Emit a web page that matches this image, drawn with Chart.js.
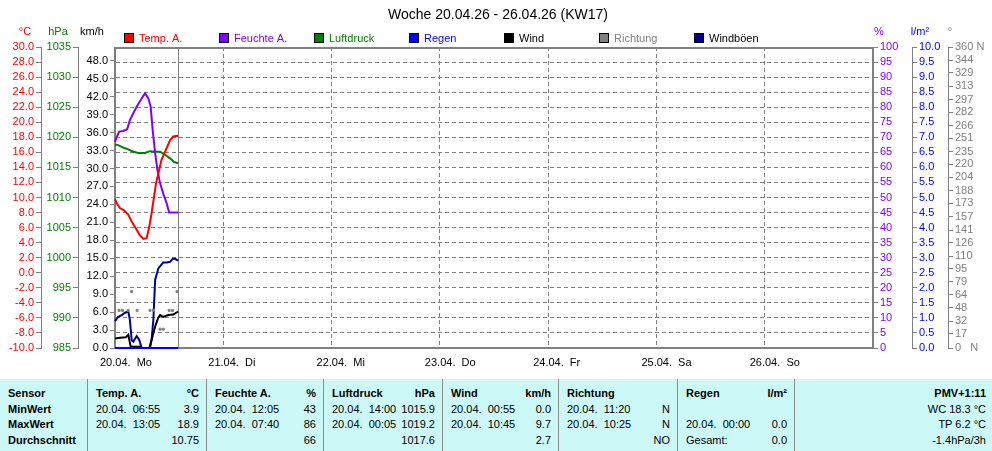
<!DOCTYPE html>
<html>
<head>
<meta charset="utf-8">
<script src="https://cdn.jsdelivr.net/npm/chart.js@4.4.0/dist/chart.umd.min.js"></script>
<style>
body{margin:0;background:#fff;font-family:"Liberation Sans",Arial,sans-serif;}
#wrap{position:relative;width:992px;height:451px;overflow:hidden}
#c{position:absolute;left:0;top:0}
#tab{position:absolute;left:0;top:379px;width:992px;height:72px;background:#ccf8f8;font-size:11px;color:#000}
.col{position:absolute;top:0;height:72px;border-left:1px solid #8c8c8c}
.r{position:absolute;left:8px;right:7px;height:14px;line-height:14px;white-space:pre}
.r span{position:absolute;right:0;top:0}
.b{font-weight:bold}
.r0{top:7px}.r1{top:23px}.r2{top:38px}.r3{top:54px}
</style>
</head>
<body>
<div id="wrap">
<canvas id="c" width="992" height="379"></canvas>
<div id="tab">
  <div class="col" style="left:0;width:87px;border-left:none">
    <div class="r r0 b">Sensor</div><div class="r r1 b">MinWert</div><div class="r r2 b">MaxWert</div><div class="r r3 b">Durchschnitt</div>
  </div>
  <div class="col" style="left:87px;width:118px">
    <div class="r r0 b">Temp. A.<span>°C</span></div>
    <div class="r r1">20.04.  06:55<span>3.9</span></div>
    <div class="r r2">20.04.  13:05<span>18.9</span></div>
    <div class="r r3"><span>10.75</span></div>
  </div>
  <div class="col" style="left:206px;width:116px">
    <div class="r r0 b">Feuchte A.<span>%</span></div>
    <div class="r r1">20.04.  12:05<span>43</span></div>
    <div class="r r2">20.04.  07:40<span>86</span></div>
    <div class="r r3"><span>66</span></div>
  </div>
  <div class="col" style="left:323px;width:118px">
    <div class="r r0 b">Luftdruck<span>hPa</span></div>
    <div class="r r1">20.04.  14:00<span>1015.9</span></div>
    <div class="r r2">20.04.  00:05<span>1019.2</span></div>
    <div class="r r3"><span>1017.6</span></div>
  </div>
  <div class="col" style="left:442px;width:115px">
    <div class="r r0 b">Wind<span>km/h</span></div>
    <div class="r r1">20.04.  00:55<span>0.0</span></div>
    <div class="r r2">20.04.  10:45<span>9.7</span></div>
    <div class="r r3"><span>2.7</span></div>
  </div>
  <div class="col" style="left:558px;width:118px">
    <div class="r r0 b">Richtung</div>
    <div class="r r1">20.04.  11:20<span>N</span></div>
    <div class="r r2">20.04.  10:25<span>N</span></div>
    <div class="r r3"><span>NO</span></div>
  </div>
  <div class="col" style="left:677px;width:116px">
    <div class="r r0 b">Regen<span>l/m²</span></div>
    <div class="r r2">20.04.  00:00<span>0.0</span></div>
    <div class="r r3">Gesamt:<span>0.0</span></div>
  </div>
  <div class="col" style="left:794px;width:198px">
    <div class="r r0 b"><span>PMV+1:11</span></div>
    <div class="r r1"><span>WC 18.3 °C</span></div>
    <div class="r r2"><span>TP 6.2 °C</span></div>
    <div class="r r3"><span>-1.4hPa/3h</span></div>
  </div>
</div>
</div>
<script>
// Stunden seit 20.04. 00:00 und Messwerte
const tempH = [0, 0.4, 1.1, 2.0, 2.95, 3.7, 4.4, 5.5, 6.3, 7.0, 7.6, 8.1, 8.65, 9.1, 9.6, 10.3, 11.1, 12.2, 12.9, 14.0];
const tempV = [9.8, 9.2, 8.6, 8.3, 7.7, 6.8, 6.1, 5.0, 4.5, 4.6, 6.1, 7.9, 10.1, 11.9, 13.2, 15.0, 16.1, 17.6, 18.1, 18.2];

const humH = [0, 0.4, 0.95, 1.8, 2.7, 3.3, 4.05, 4.9, 5.9, 6.65, 7.4, 7.9, 8.35, 8.9, 9.4, 10, 10.8, 11.45, 12.0, 14.0];
const humV = [68.5, 70.2, 71.9, 72.1, 72.7, 75.7, 78.0, 80.4, 82.9, 84.6, 82.9, 80.2, 72.4, 64.7, 59.1, 54.7, 50.8, 48.1, 45, 45];

const presH = [0, 0.7, 1.8, 2.95, 4.05, 5.2, 6.65, 7.75, 8.9, 10, 11.1, 12.2, 13.1, 14.0];
const presV = [1018.8, 1018.7, 1018.3, 1018.0, 1017.6, 1017.4, 1017.4, 1017.7, 1017.6, 1017.6, 1017.1, 1016.5, 1015.9, 1015.7];

const rainH = [0, 14.0];
const rainV = [0, 0];

const windH = [0, 1.1, 2.4, 2.95, 3.45, 4.05, 5.5, 5.9, 7.6, 8.1, 8.9, 9.6, 10, 10.7, 11.8, 12.9, 14.0];
const windV = [1.6, 1.7, 1.8, 2.2, 0.3, 0.2, 0.2, 0, 0, 1.3, 3.6, 5.1, 5.5, 5.2, 5.5, 5.6, 6.1];

const dirH = [0.9, 1.65, 2.9, 3.7, 4.9, 7.75, 8.5, 10.0, 10.7, 12.0, 12.75, 13.75];
const dirV = [45, 45, 45, 67.5, 45, 45, 45, 22.5, 22.5, 45, 45, 67.5];

const gustH = [0, 0.7, 1.5, 2.2, 2.95, 3.3, 3.7, 4.05, 4.8, 5.4, 5.9, 7.75, 8.1, 8.5, 8.9, 9.6, 10.7, 11.45, 12.2, 12.8, 13.3, 14.0];
const gustV = [4.5, 5.2, 5.5, 5.9, 6.1, 4.7, 1.3, 1.05, 2.0, 1.3, 0, 0, 1.3, 4.7, 11.4, 13.3, 14.3, 14.3, 14.4, 14.9, 14.9, 14.6];

const nowHour = 14.0;

// Achsen
const dayTicks = [0, 24, 48, 72, 96, 120, 144, 168];
const dayLabels = ['20.04.  Mo', '21.04.  Di', '22.04.  Mi', '23.04.  Do', '24.04.  Fr', '25.04.  Sa', '26.04.  So'];
const tempTicks = [-10, -8, -6, -4, -2, 0, 2, 4, 6, 8, 10, 12, 14, 16, 18, 20, 22, 24, 26, 28, 30];
const presTicks = [985, 990, 995, 1000, 1005, 1010, 1015, 1020, 1025, 1030, 1035];
const windTicks = [0, 3, 6, 9, 12, 15, 18, 21, 24, 27, 30, 33, 36, 39, 42, 45, 48];
const humTicks = [0, 5, 10, 15, 20, 25, 30, 35, 40, 45, 50, 55, 60, 65, 70, 75, 80, 85, 90, 95, 100];
const rainTicks = [0, 0.5, 1, 1.5, 2, 2.5, 3, 3.5, 4, 4.5, 5, 5.5, 6, 6.5, 7, 7.5, 8, 8.5, 9, 9.5, 10];
const dirTicks = [0, 17, 32, 48, 64, 79, 95, 110, 126, 141, 157, 173, 188, 204, 220, 235, 251, 266, 282, 297, 313, 329, 344, 360];

const F = '"Liberation Sans", Arial, sans-serif';
const GRAY = '#808080';

function pts(h, v) {
  return h.map((x, i) => ({x: x, y: v[i]}));
}

function yAxis(pos, weight, min, max, ticks, color, width, fmt, border) {
  return {
    type: 'linear', position: pos, weight: weight, min: min, max: max,
    afterBuildTicks: s => { s.ticks = ticks.map(v => ({value: v})); },
    afterFit: s => { s.width = width; },
    ticks: {color: color, font: {size: 11, family: F}, padding: 2, autoSkip: false, callback: fmt},
    grid: {drawOnChartArea: false, drawTicks: true, tickLength: 5, tickColor: GRAY},
    border: {display: border, color: GRAY, width: 1}
  };
}

const f1 = v => v.toFixed(1);
const f0 = v => String(v);

const scales = {
  x: {
    type: 'linear', min: 0, max: 168,
    afterBuildTicks: s => { s.ticks = dayTicks.map(v => ({value: v})); },
    afterFit: s => { s.height = 31; },
    ticks: {color: '#000', font: {size: 11, family: F}, align: 'start', labelOffset: -15, padding: 8,
      autoSkip: false, maxRotation: 0, callback: (v, i) => dayLabels[i] || ''},
    grid: {color: GRAY, drawTicks: false},
    border: {display: false, dash: [4, 3]}
  },
  yT: yAxis('left', 3, -10, 30, tempTicks, '#ff0000', 41, f1, true),
  yP: yAxis('left', 2, 985, 1035, presTicks, '#008000', 37, f0, true),
  yW: yAxis('left', 1, 0, 50.3, windTicks, '#000000', 37, f1, false),
  yH: yAxis('right', 1, 0, 100, humTicks, '#8000ff', 39, f0, false),
  yR: yAxis('right', 2, 0, 10, rainTicks, '#0000ff', 36, f1, true),
  yD: yAxis('right', 3, 0, 360, dirTicks, GRAY, 44, v => v === 0 ? '0   N' : (v === 360 ? '360 N' : String(v)), true)
};
// horizontale Rasterlinien von der Temperaturachse
scales.yT.grid.drawOnChartArea = true;
scales.yT.grid.color = GRAY;
scales.yT.border.dash = [4, 3];

function line(label, h, v, color, axis, legendText) {
  return {label: label, data: pts(h, v), yAxisID: axis, borderColor: color, backgroundColor: color,
    borderWidth: 2, pointRadius: 0, tension: 0, fill: false, clip: 3, legendText: legendText};
}

const datasets = [
  line('Temp. A.', tempH, tempV, '#ff0000', 'yT', '#ff0000'),
  line('Feuchte A.', humH, humV, '#8000ff', 'yH', '#8000ff'),
  line('Luftdruck', presH, presV, '#008000', 'yP', '#008000'),
  line('Regen', rainH, rainV, '#0000ff', 'yR', '#0000ff'),
  line('Wind', windH, windV, '#000000', 'yW', '#000000'),
  Object.assign(line('Richtung', dirH, dirV, GRAY, 'yD', GRAY),
    {showLine: false, pointRadius: 1.4, pointStyle: 'rect', pointBorderWidth: 1,
     pointBorderColor: GRAY, pointBackgroundColor: GRAY}),
  line('Windböen', gustH, gustV, '#000090', 'yW', '#000000')
];

const decor = {
  id: 'decor',
  beforeDatasetsDraw(chart) {
    const {ctx, chartArea: a} = chart;
    const nx = Math.round(chart.scales.x.getPixelForValue(nowHour)) + 0.5;
    ctx.save();
    ctx.strokeStyle = GRAY;
    ctx.lineWidth = 1;
    ctx.beginPath();
    ctx.moveTo(nx, a.top);
    ctx.lineTo(nx, a.bottom);
    ctx.stroke();
    ctx.lineWidth = 2;
    ctx.strokeRect(a.left, a.top + 1, a.right - a.left, a.bottom - a.top - 1);
    ctx.restore();
  },
  afterDraw(chart) {
    const ctx = chart.ctx;
    ctx.save();
    ctx.textBaseline = 'middle';
    ctx.textAlign = 'center';
    ctx.fillStyle = '#000';
    ctx.font = '14px ' + F;
    ctx.fillText('Woche 20.04.26 - 26.04.26 (KW17)', 498, 15);

    ctx.font = '11px ' + F;
    const heads = [['°C', 25, '#ff0000'], ['hPa', 58, '#008000'], ['km/h', 92, '#000'],
      ['%', 879, '#8000ff'], ['l/m²', 920, '#0000ff'], ['°', 950, GRAY]];
    heads.forEach(h => { ctx.fillStyle = h[2]; ctx.fillText(h[0], h[1], 32); });

    ctx.textAlign = 'left';
    chart.data.datasets.forEach((d, i) => {
      const x = 124 + i * 95;
      ctx.fillStyle = d.borderColor;
      ctx.fillRect(x, 33, 10, 10);
      ctx.strokeStyle = '#000';
      ctx.lineWidth = 1;
      ctx.strokeRect(x + 0.5, 33.5, 9, 9);
      ctx.fillStyle = d.legendText;
      ctx.fillText(d.label, x + 15, 38.5);
    });
    ctx.restore();
  }
};

new Chart(document.getElementById('c'), {
  type: 'line',
  data: {datasets: datasets},
  options: {
    responsive: false,
    animation: false,
    layout: {padding: {top: 47, left: 0, right: 0, bottom: 0}},
    plugins: {legend: {display: false}, title: {display: false}, tooltip: {enabled: false}},
    scales: scales
  },
  plugins: [decor]
});
</script>
</body>
</html>
